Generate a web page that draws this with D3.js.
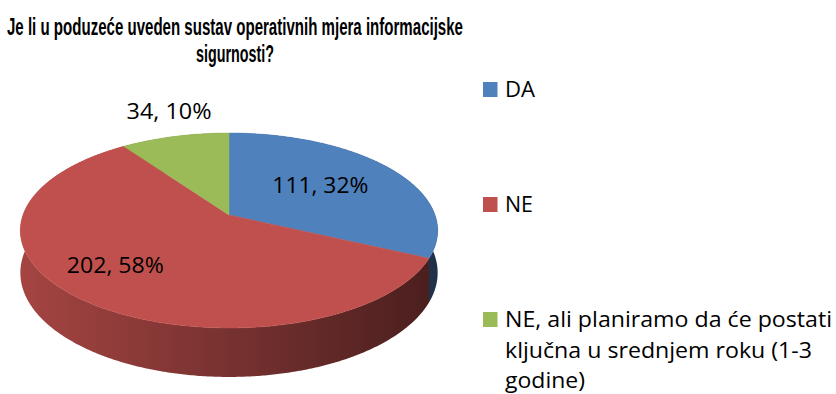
<!DOCTYPE html>
<html>
<head>
<meta charset="utf-8">
<script src="https://cdn.jsdelivr.net/npm/d3@7"></script>
<style>
  body { margin: 0; background: #ffffff; }
  svg { display: block; }
  text { font-family: "Open Sans", "Noto Sans", sans-serif; fill: #000; }
  .title { font-family: "Liberation Sans", Arial, sans-serif; font-weight: bold; }
</style>
</head>
<body>
<svg id="chart" width="836" height="394"></svg>
<script>
// ---- data ----
const titleLines = ["Je li u poduzeće uveden sustav operativnih mjera informacijske", "sigurnosti?"];
const categories = ["DA", "NE", "NE, ali planiramo da će postati ključna u srednjem roku (1-3 godine)"];
const legendLines = [["DA"], ["NE"], ["NE, ali planiramo da će postati", "ključna u srednjem roku (1-3", "godine)"]];
const counts = [111, 202, 34];
const percents = [32, 58, 10];
const colors = ["#4F81BD", "#C0504D", "#9BBB59"];

// ---- layout / style ----
const cx = 229, cy = 215;      // projected centre of the top face
const rx = 206;                // horizontal radius at mid depth
const ry = 95;                 // vertical radius factor
const persp = 0.159;           // perspective strength (near side larger)
const depth = 41.2;            // thickness of the pie
const labelStyle = [
  { r: 0.55, dx: 0,    dy: -3,   len: 96 },
  { r: 0.75, dx: -4.5, dy: -10,  len: 97 },
  { r: 1.35, dx: 10,   dy: -2.5, len: 85 }
];

const svg = d3.select("#chart");
const defs = svg.append("defs");

// projection of a point on the pie disc (angle clockwise from 12 o'clock)
function proj(theta, r = 1, drop = 0) {
  const X = r * Math.sin(theta);
  const Z = -r * Math.cos(theta);
  const s = 1 / (1 - persp * Z);
  return [cx + rx * X * s, cy + ry * Z * s + drop * s];
}

function sampleArc(a0, a1, drop) {
  const n = Math.max(2, Math.ceil((a1 - a0) / (Math.PI / 360)));
  return d3.range(n + 1).map(k => proj(a0 + (a1 - a0) * k / n, 1, drop));
}

const pie = d3.pie().sort(null).value(d => d).startAngle(0).endAngle(2 * Math.PI);
const arcs = pie(counts);

// horizontal shading of the side wall: lighter on the left, darker on the right
const shade = (c, f) => { const r = d3.rgb(c); return d3.rgb(r.r * f, r.g * f, r.b * f).formatHex(); };
colors.forEach((c, i) => {
  const g = defs.append("linearGradient")
    .attr("id", "side" + i)
    .attr("gradientUnits", "userSpaceOnUse")
    .attr("x1", cx - rx - 4).attr("x2", cx + rx + 4)
    .attr("y1", 0).attr("y2", 0);
  [[0, 0.86], [0.25, 0.74], [0.5, 0.62], [0.75, 0.5], [1, 0.38]].forEach(([o, f]) => {
    g.append("stop").attr("offset", o).attr("stop-color", shade(c, f));
  });
});

// ---- side walls (back parts end up hidden under the top faces) ----
const sideOrder = arcs.map((a, i) => ({ a, i }))
  .sort((p, q) => {
    const zp = -Math.cos((p.a.startAngle + p.a.endAngle) / 2);
    const zq = -Math.cos((q.a.startAngle + q.a.endAngle) / 2);
    return zp - zq;
  });
svg.append("g")
  .selectAll("path")
  .data(sideOrder)
  .join("path")
  .attr("d", d => {
    const top = sampleArc(d.a.startAngle, d.a.endAngle, 0);
    const bot = sampleArc(d.a.startAngle, d.a.endAngle, depth).reverse();
    return "M" + top.concat(bot).map(q => q.join(",")).join("L") + "Z";
  })
  .attr("fill", d => `url(#side${d.i})`);

// ---- top faces ----
svg.append("g")
  .selectAll("path")
  .data(arcs)
  .join("path")
  .attr("d", a => {
    const pts = [[cx, cy]].concat(sampleArc(a.startAngle, a.endAngle, 0));
    return "M" + pts.map(q => q.join(",")).join("L") + "Z";
  })
  .attr("fill", (a, i) => colors[i])
  .attr("stroke", (a, i) => colors[i])
  .attr("stroke-width", 0.5);

// ---- data labels ----
svg.append("g")
  .selectAll("text")
  .data(arcs)
  .join("text")
  .each(function (a, i) {
    const st = labelStyle[i];
    const mid = (a.startAngle + a.endAngle) / 2;
    const [x, y] = proj(mid, st.r);
    d3.select(this)
      .attr("x", x + st.dx)
      .attr("y", y + st.dy)
      .attr("dy", "0.36em")
      .attr("text-anchor", "middle")
      .attr("font-size", 22.5)
      .attr("textLength", st.len)
      .attr("lengthAdjust", "spacingAndGlyphs")
      .text(`${counts[i]}, ${percents[i]}%`);
  });

// ---- title ----
const titleLens = [456, 78];
svg.append("g")
  .selectAll("text")
  .data(titleLines)
  .join("text")
  .attr("class", "title")
  .attr("x", 235)
  .attr("y", (d, i) => 35 + i * 27)
  .attr("text-anchor", "middle")
  .attr("font-size", 23)
  .attr("textLength", (d, i) => titleLens[i])
  .attr("lengthAdjust", "spacingAndGlyphs")
  .text(d => d);

// ---- legend ----
const legendY = [97, 212, 327];
const legendLens = [[30], [28], [327, 307, 80]];
const lg = svg.append("g");
categories.forEach((c, i) => {
  lg.append("rect")
    .attr("x", 483).attr("y", legendY[i] - 15)
    .attr("width", 14.5).attr("height", 15)
    .attr("fill", colors[i]);
  legendLines[i].forEach((line, j) => {
    lg.append("text")
      .attr("x", 505)
      .attr("y", legendY[i] + j * 30.5)
      .attr("font-size", 21)
      .attr("textLength", legendLens[i][j])
      .attr("lengthAdjust", "spacingAndGlyphs")
      .text(line);
  });
});
</script>
</body>
</html>
